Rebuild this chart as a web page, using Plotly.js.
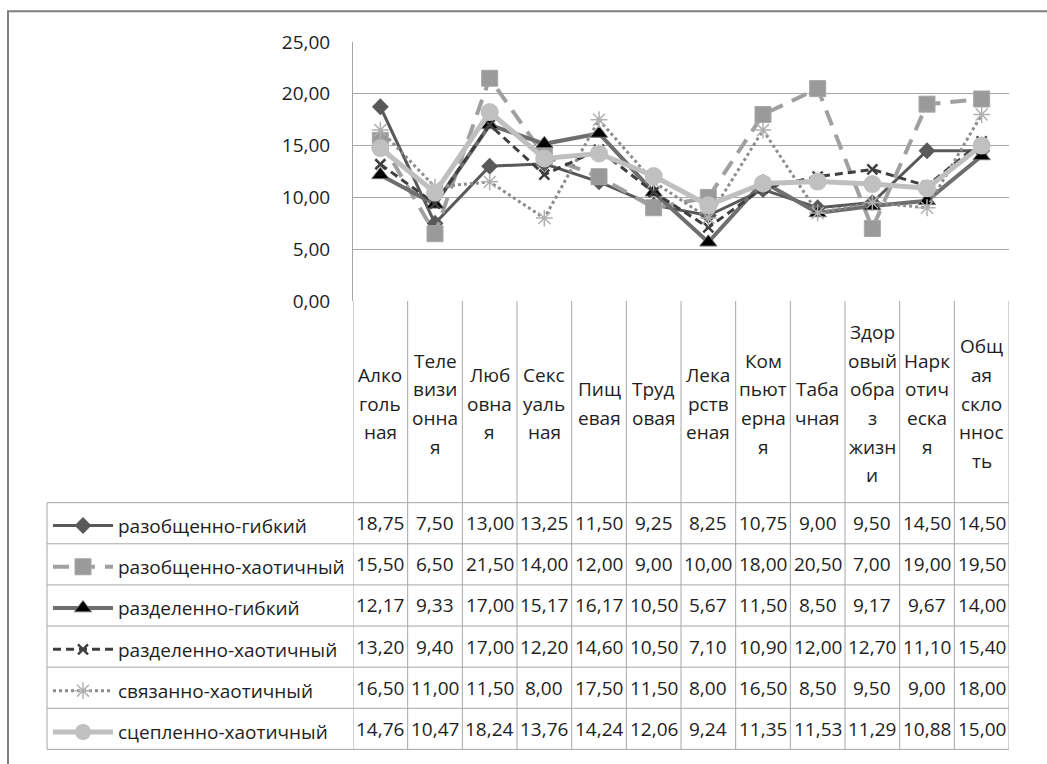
<!DOCTYPE html>
<html>
<head>
<meta charset="utf-8">
<script src="https://cdn.plot.ly/plotly-3.0.1.min.js"></script>
<style>
html,body{margin:0;padding:0;background:#fff;}
#chart{width:1047px;height:764px;}
</style>
</head>
<body>
<div id="chart"></div>
<script>
// ---- data ----
const categories = ["Алкогольная","Телевизионная","Любовная","Сексуальная","Пищевая","Трудовая","Лекарственая","Компьютерная","Табачная","Здоровый образ жизни","Наркотическая","Общая склонность"];
const categoryLabels = [
  ["Алко","голь","ная"],
  ["Теле","визи","онна","я"],
  ["Люб","овна","я"],
  ["Секс","уаль","ная"],
  ["Пищ","евая"],
  ["Труд","овая"],
  ["Лека","рств","еная"],
  ["Ком","пьют","ерна","я"],
  ["Таба","чная"],
  ["Здор","овый","обра","з","жизн","и"],
  ["Нарк","отич","еска","я"],
  ["Общ","ая","скло","ннос","ть"]
];
const seriesNames = ["разобщенно-гибкий","разобщенно-хаотичный","разделенно-гибкий","разделенно-хаотичный","связанно-хаотичный","сцепленно-хаотичный"];
const razobGibkiy   = [18.75,7.50,13.00,13.25,11.50,9.25,8.25,10.75,9.00,9.50,14.50,14.50];
const razobHaot     = [15.50,6.50,21.50,14.00,12.00,9.00,10.00,18.00,20.50,7.00,19.00,19.50];
const razdelGibkiy  = [12.17,9.33,17.00,15.17,16.17,10.50,5.67,11.50,8.50,9.17,9.67,14.00];
const razdelHaot    = [13.20,9.40,17.00,12.20,14.60,10.50,7.10,10.90,12.00,12.70,11.10,15.40];
const svyazHaot     = [16.50,11.00,11.50,8.00,17.50,11.50,8.00,16.50,8.50,9.50,9.00,18.00];
const sceplHaot     = [14.76,10.47,18.24,13.76,14.24,12.06,9.24,11.35,11.53,11.29,10.88,15.00];
const yTicks = [0,5,10,15,20,25];

const seriesValues = [razobGibkiy, razobHaot, razdelGibkiy, razdelHaot, svyazHaot, sceplHaot];

// ---- styles ----
const FONT = "'Open Sans', 'Noto Sans', sans-serif";
const TXT = '#1e1e1e';
const GRID = '#a6a6a6';
const styles = [
  {line:{color:'#595959',width:3,dash:'solid'}, marker:{symbol:'diamond',size:13,color:'#595959'}},
  {line:{color:'#a0a0a0',width:4,dash:'16px,10px'}, marker:{symbol:'square',size:16,color:'#9a9a9a',line:{color:'#a6a6a6',width:1}}},
  {line:{color:'#6e6e6e',width:4,dash:'solid'}, marker:{symbol:'triangle-up',size:15,color:'#000000',line:{color:'#6e6e6e',width:1}}},
  {line:{color:'#3f3f3f',width:3,dash:'8px,5px'}, marker:{symbol:'x-thin-open',size:10,color:'#3f3f3f',line:{color:'#3f3f3f',width:2.5}}},
  {line:{color:'#8c8c8c',width:3,dash:'dot'}, marker:{symbol:'asterisk-open',size:14,color:'#b0b0b0',line:{color:'#b0b0b0',width:1.5}}},
  {line:{color:'#bfbfbf',width:5,dash:'solid'}, marker:{symbol:'circle',size:18,color:'#c0c0c0'}}
];

const traces = seriesValues.map((vals,i)=>({
  type:'scatter', mode:'lines+markers',
  name: seriesNames[i], x: categories, y: vals,
  line: styles[i].line, marker: styles[i].marker,
  legendgroup: 'g'+i, hoverinfo:'skip'
}));

// ---- layout geometry (pixels) ----
const W=1047, H=764, ML=353, MR=38, MT=42, MB=460;
const PW = W-ML-MR, PH = H-MT-MB;
const y0px = H-MB; // pixel of value 0
const px2py = p => (y0px - p)/PH;
const px2xx = p => (p - ML)/PW;
const headerBottom = 508, rowH = 41.6, tableLeft = 47, nRows = seriesNames.length;
const tableBottom = headerBottom + rowH*nRows;

const shapes = [];
// outer chart border
shapes.push({type:'rect', xref:'paper', yref:'paper', x0:px2xx(8), x1:px2xx(1120), y0:px2py(11), y1:px2py(820), line:{color:'#7f7f7f',width:2}, layer:'below'});
// column separators
for(let i=0;i<=categories.length;i++){
  shapes.push({type:'line', xref:'x', yref:'paper', x0:i-0.5, x1:i-0.5, y0:0, y1:px2py(tableBottom), line:{color:GRID,width:1}});
}
// legend column left border
shapes.push({type:'line', xref:'paper', yref:'paper', x0:px2xx(tableLeft), x1:px2xx(tableLeft), y0:px2py(headerBottom), y1:px2py(tableBottom), line:{color:GRID,width:1}});
// row lines
for(let r=0;r<=nRows;r++){
  const yp = px2py(headerBottom + r*rowH);
  shapes.push({type:'line', xref:'paper', yref:'paper', x0:px2xx(tableLeft), x1:1, y0:yp, y1:yp, line:{color:GRID,width:1}});
}

const annotations = [];
// category header labels
const headerCenter = (y0px + headerBottom)/2 + 2, lineGap = 29;
categoryLabels.forEach((lines,i)=>{
  const n = lines.length;
  lines.forEach((t,k)=>{
    const yc = headerCenter + (k - (n-1)/2)*lineGap;
    annotations.push({xref:'x', yref:'paper', x:categories[i], y:px2py(yc), text:t, showarrow:false,
      xanchor:'center', yanchor:'middle', font:{family:FONT,size:19,color:TXT}});
  });
});
// values
const fmt = v => v.toFixed(2).replace('.', ',');
seriesValues.forEach((vals,r)=>{
  const yc = headerBottom + (r+0.5)*rowH;
  vals.forEach((v,i)=>{
    annotations.push({xref:'x', yref:'paper', x:categories[i], y:px2py(yc), text:fmt(v), showarrow:false,
      xanchor:'center', yanchor:'middle', font:{family:FONT,size:19,color:TXT}});
  });
});

const layout = {
  width:W, height:H,
  margin:{l:ML, r:MR, t:MT, b:MB, pad:0},
  paper_bgcolor:'#ffffff', plot_bgcolor:'#ffffff',
  separators:', ',
  showlegend:true,
  legend:{x:px2xx(tableLeft+1), xanchor:'left', y:px2py(headerBottom+4), yanchor:'top',
    font:{family:FONT,size:19,color:TXT}, bgcolor:'rgba(0,0,0,0)', borderwidth:0,
    tracegroupgap:13.6, itemwidth:60, traceorder:'grouped'},
  xaxis:{type:'category', range:[-0.5, categories.length-0.5], showticklabels:false, ticks:'',
    showgrid:false, zeroline:false, showline:false, fixedrange:true},
  yaxis:{range:[0,25], tickvals:yTicks, tickformat:'.2f', showgrid:true, gridcolor:GRID, gridwidth:1,
    zeroline:false, showline:true, linecolor:GRID, linewidth:1, ticks:'', ticklabelstandoff:18,
    tickfont:{family:FONT,size:19,color:TXT}, fixedrange:true},
  shapes: shapes,
  annotations: annotations
};

Plotly.newPlot('chart', traces, layout, {displayModeBar:false, staticPlot:true});
</script>
</body>
</html>
